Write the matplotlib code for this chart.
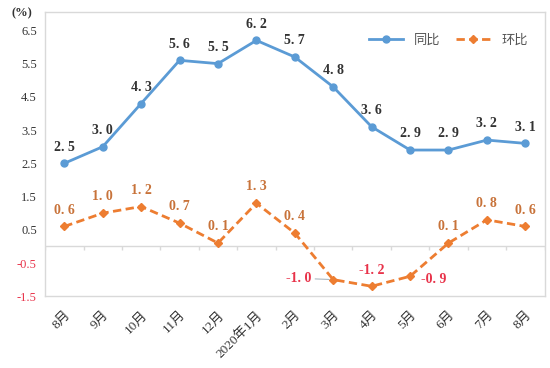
import matplotlib
matplotlib.use("Agg")
from matplotlib import pyplot as plt
import numpy as np

plt.rcParams['font.family'] = ['Liberation Serif', 'Noto Sans CJK SC', 'DejaVu Sans']

# data
months = ['8月', '9月', '10月', '11月', '12月', '2020年1月', '2月', '3月',
          '4月', '5月', '6月', '7月', '8月']
yoy = [2.5, 3.0, 4.3, 5.6, 5.5, 6.2, 5.7, 4.8, 3.6, 2.9, 2.9, 3.2, 3.1]
mom = [0.6, 1.0, 1.2, 0.7, 0.1, 1.3, 0.4, -1.0, -1.2, -0.9, 0.1, 0.8, 0.6]
yticks = [6.5, 5.5, 4.5, 3.5, 2.5, 1.5, 0.5, -0.5, -1.5]

BLUE = '#5B9BD5'
ORANGE = '#ED7D31'
ORANGE_TXT = '#C8733A'
RED = '#E8334A'
GRAY = '#D9D9D9'

fig = plt.figure(figsize=(5.5, 3.68), dpi=100)
ax = fig.add_axes([0.082, 0.195, 0.908, 0.772])

x = np.arange(len(months))
ax.plot(x, yoy, color=BLUE, lw=2, marker='o', ms=5, label='同比', zorder=3)
ax.plot(x, mom, color=ORANGE, lw=2, ls=(0, (3, 1.6)), marker='D', ms=4.5,
        label='环比', zorder=3)

# zero line with small tick marks between categories
ax.axhline(0, color=GRAY, lw=1, zorder=1)
ax.vlines(np.arange(len(months) + 1) - 0.5, -0.12, 0, color=GRAY, lw=1, zorder=1)

# value labels
for xi, v in zip(x, yoy):
    ax.annotate(f'{v:.1f}'.replace('.', '. '), (xi, v), xytext=(0, 7),
                textcoords='offset points', ha='center', va='bottom',
                fontsize=10, fontweight='bold', color='#333333')
for xi, v in zip(x, mom):
    if v >= 0:
        ax.annotate(f'{v:.1f}'.replace('.', '. '), (xi, v), xytext=(0, 7),
                    textcoords='offset points', ha='center', va='bottom',
                    fontsize=10, fontweight='bold', color=ORANGE_TXT)
    else:
        txt = f'{v:.1f}'.replace('.', '. ')
        if xi == 7:
            ax.annotate(txt, (xi, v), xytext=(-16, 1), textcoords='offset points',
                        ha='right', va='center', fontsize=10, fontweight='bold',
                        color=RED, arrowprops=dict(arrowstyle='-', color='#AAB8C2',
                                                   lw=0.8, shrinkA=1, shrinkB=3))
        elif xi == 9:
            ax.annotate(txt, (xi, v), xytext=(8, -2), textcoords='offset points',
                        ha='left', va='center', fontsize=10, fontweight='bold',
                        color=RED)
        else:
            ax.annotate(txt, (xi, v), xytext=(0, 7), textcoords='offset points',
                        ha='center', va='bottom', fontsize=10, fontweight='bold',
                        color=RED)

ax.set_xlim(-0.5, len(months) - 0.5)
ax.set_ylim(-1.5, 7.05)
ax.set_yticks(yticks)
ax.set_yticklabels([f'{t:.1f}' for t in yticks], fontsize=9)
for lab, t in zip(ax.get_yticklabels(), yticks):
    lab.set_color(RED if t < 0 else '#333333')

ax.set_xticks(x)
ax.set_xticklabels(months, rotation=45, ha='right', rotation_mode='anchor',
                   fontsize=9.5, color='#333333')
ax.tick_params(axis='both', length=0, pad=6)
ax.tick_params(axis='x', pad=9)

for s in ax.spines.values():
    s.set_color(GRAY)
    s.set_linewidth(1)

fig.text(0.02, 0.955, '(%)', fontsize=9, color='#333333', fontweight='bold')

leg = ax.legend(loc='upper right', ncol=2, frameon=False,
                handlelength=2.6, columnspacing=1.2, bbox_to_anchor=(0.99, 0.965),
                prop={'family': ['Noto Sans CJK SC'], 'size': 9.5})
for t in leg.get_texts():
    t.set_color('#555555')

plt.savefig('out.png', dpi=100)
